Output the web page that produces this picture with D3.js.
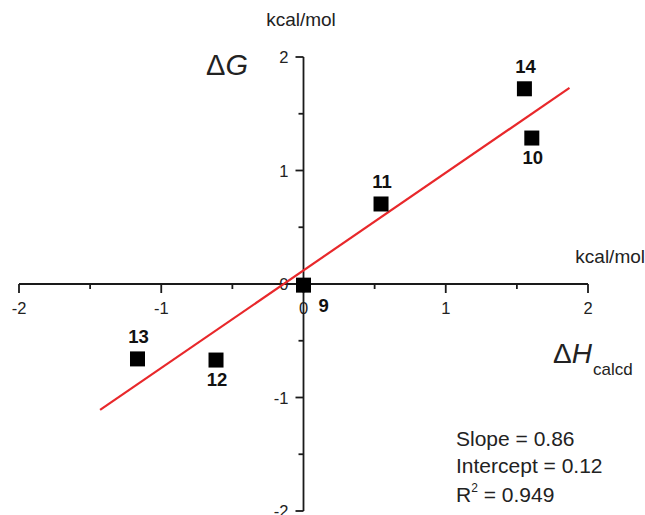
<!DOCTYPE html>
<html>
<head>
<meta charset="utf-8">
<script src="https://cdn.jsdelivr.net/npm/d3@7"></script>
<style>
  html, body { margin: 0; padding: 0; background: #fff; }
  svg { display: block; font-family: "Liberation Sans", Arial, sans-serif; }
</style>
</head>
<body>
<svg id="chart" width="645" height="515"></svg>
<script>
// ---- data ----
const compounds = ["14", "10", "11", "9", "13", "12"];
const dH = [1.553, 1.605, 0.545, 0.0, -1.167, -0.615];
const dG = [1.72, 1.286, 0.705, -0.01, -0.66, -0.67];
const labelSide = ["above", "below", "above", "right", "above", "below"];
const xTicks = [-2, -1, 0, 1, 2];
const yTicks = [-2, -1, 0, 1, 2];
const minorTicks = [-1.5, -0.5, 0.5, 1.5];
const fitSlope = 0.86;
const fitIntercept = 0.12;
const fitRange = [-1.43, 1.87];
const statLines = ["Slope = 0.86", "Intercept = 0.12", "R2 = 0.949"];

const svg = d3.select("#chart");
const x = d3.scaleLinear().domain([-2, 2]).range([19, 588]);
const y = d3.scaleLinear().domain([-2, 2]).range([511, 57]);
const axisColor = "#1a1a1a";

// x axis through y=0
const gx = svg.append("g").attr("transform", `translate(0,${y(0)})`);
gx.append("line").attr("x1", x(-2)).attr("x2", x(2)).attr("stroke", axisColor).attr("stroke-width", 1.8);
gx.selectAll(".maj").data(xTicks).enter().append("line")
  .attr("x1", d => x(d)).attr("x2", d => x(d)).attr("y1", 0).attr("y2", 9)
  .attr("stroke", axisColor).attr("stroke-width", 1.8);
gx.selectAll(".min").data(minorTicks).enter().append("line")
  .attr("x1", d => x(d)).attr("x2", d => x(d)).attr("y1", 0).attr("y2", 5)
  .attr("stroke", axisColor).attr("stroke-width", 1.8);
gx.selectAll(".lab").data(xTicks).enter().append("text")
  .attr("x", d => x(d)).attr("y", 30).attr("text-anchor", "middle")
  .attr("font-size", 16.5).attr("fill", "#222").text(d => d);

// y axis through x=0
const gy = svg.append("g").attr("transform", `translate(${x(0)},0)`);
gy.append("line").attr("y1", y(-2)).attr("y2", y(2)).attr("stroke", axisColor).attr("stroke-width", 1.8);
gy.selectAll(".maj").data(yTicks).enter().append("line")
  .attr("y1", d => y(d)).attr("y2", d => y(d)).attr("x1", 0).attr("x2", -8)
  .attr("stroke", axisColor).attr("stroke-width", 1.8);
gy.selectAll(".min").data(minorTicks).enter().append("line")
  .attr("y1", d => y(d)).attr("y2", d => y(d)).attr("x1", 0).attr("x2", -5)
  .attr("stroke", axisColor).attr("stroke-width", 1.8);
gy.selectAll(".lab").data(yTicks).enter().append("text")
  .attr("x", -15).attr("y", d => y(d) + 6).attr("text-anchor", "end")
  .attr("font-size", 16.5).attr("fill", "#222").text(d => d);

// fit line
svg.append("line")
  .attr("x1", x(fitRange[0])).attr("y1", y(fitIntercept + fitSlope * fitRange[0]))
  .attr("x2", x(fitRange[1])).attr("y2", y(fitIntercept + fitSlope * fitRange[1]))
  .attr("stroke", "#e8282b").attr("stroke-width", 2.2);

// points
const pts = compounds.map((c, i) => ({ c, x: dH[i], y: dG[i], side: labelSide[i] }));
const sz = 15;
svg.selectAll(".pt").data(pts).enter().append("rect")
  .attr("x", d => x(d.x) - sz / 2).attr("y", d => y(d.y) - sz / 2)
  .attr("width", sz).attr("height", sz).attr("fill", "#000");
svg.selectAll(".pl").data(pts).enter().append("text")
  .attr("x", d => d.side === "right" ? x(d.x) + 15 : x(d.x) + 1)
  .attr("y", d => d.side === "above" ? y(d.y) - 15.5 : d.side === "below" ? y(d.y) + 26 : y(d.y) + 27)
  .attr("text-anchor", d => d.side === "right" ? "start" : "middle")
  .attr("font-size", 18.5).attr("font-weight", "bold").attr("fill", "#111")
  .text(d => d.c);

// axis titles
svg.append("text").attr("x", 301).attr("y", 26).attr("text-anchor", "middle")
  .attr("font-size", 19).attr("fill", "#222").text("kcal/mol");
svg.append("text").attr("x", 645).attr("y", 263).attr("text-anchor", "end")
  .attr("font-size", 19).attr("fill", "#222").text("kcal/mol");

const tG = svg.append("text").attr("x", 206).attr("y", 75).attr("font-size", 29).attr("fill", "#222");
tG.append("tspan").text("\u0394");
tG.append("tspan").attr("font-style", "italic").text("G");

const tH = svg.append("text").attr("x", 553).attr("y", 363).attr("font-size", 28).attr("fill", "#222");
tH.append("tspan").text("\u0394");
tH.append("tspan").attr("font-style", "italic").text("H");
tH.append("tspan").attr("font-size", 17).attr("dy", 12).attr("dx", 1).text("calcd");

// stats
const st = svg.append("g").attr("font-size", 21).attr("fill", "#222");
st.append("text").attr("x", 456).attr("y", 446).text(statLines[0]);
st.append("text").attr("x", 456).attr("y", 473).text(statLines[1]);
const r2 = st.append("text").attr("x", 456).attr("y", 502);
r2.append("tspan").text("R");
r2.append("tspan").attr("font-size", 12).attr("dy", -10).text("2");
r2.append("tspan").attr("dy", 10).text(statLines[2].slice(2));
</script>
</body>
</html>
